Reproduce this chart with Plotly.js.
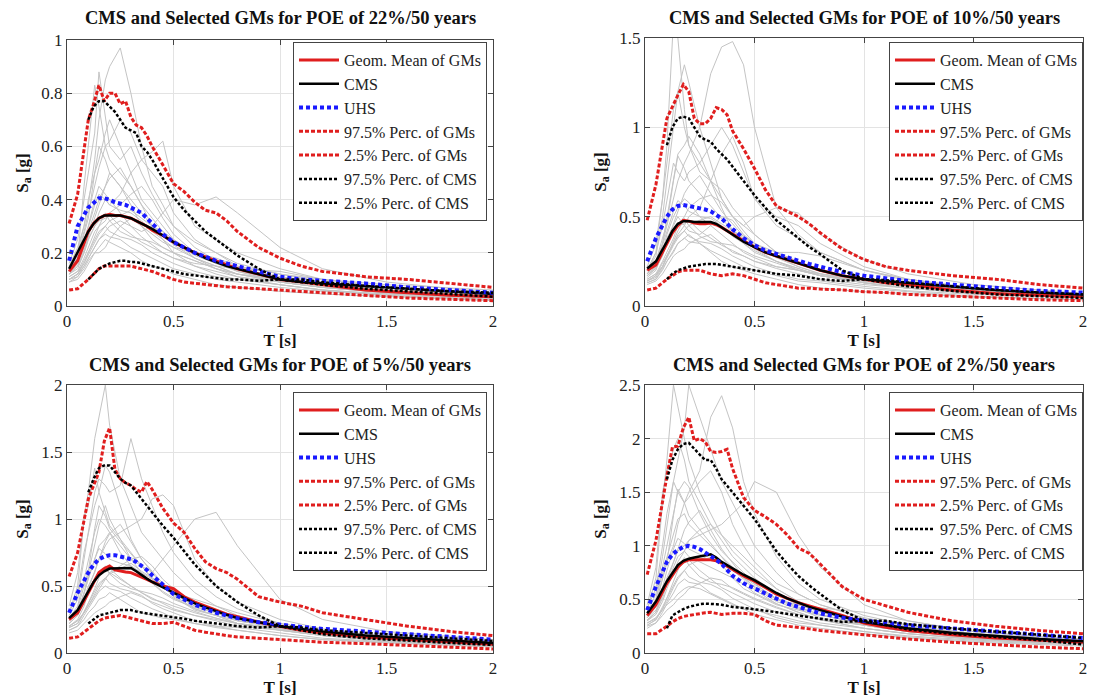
<!DOCTYPE html>
<html>
<head>
<meta charset="utf-8">
<script src="https://cdn.plot.ly/plotly-3.0.1.min.js"></script>
<style>html,body{margin:0;padding:0;background:#fff;}#chart{width:1093px;height:700px;}</style>
</head>
<body>
<div id="chart"></div>
<script>
// Period grids
const T  = [0.01,0.05,0.1,0.125,0.15,0.175,0.2,0.225,0.25,0.275,0.3,0.325,0.35,0.375,0.4,0.45,0.5,0.55,0.6,0.65,0.7,0.75,0.8,0.9,1.0,1.1,1.2,1.4,1.6,1.8,2.0];
const TG = [0.01,0.05,0.08,0.1,0.13,0.15,0.18,0.2,0.25,0.3,0.35,0.4,0.45,0.5,0.6,0.7,0.8,1.0,1.2,1.5,2.0];

const panelTitles = [
  "CMS and Selected GMs for POE of 22%/50 years",
  "CMS and Selected GMs for POE of 10%/50 years",
  "CMS and Selected GMs for POE of 5%/50 years",
  "CMS and Selected GMs for POE of 2%/50 years"
];
const seriesNames = ["Geom. Mean of GMs","CMS","UHS","97.5% Perc. of GMs","2.5% Perc. of GMs","97.5% Perc. of CMS","2.5% Perc. of CMS"];

// ---- POE 22%/50 years ----
const gm22  = [0.13,0.17,0.28,0.31,0.33,0.34,0.345,0.34,0.34,0.335,0.33,0.32,0.31,0.3,0.285,0.265,0.24,0.22,0.2,0.185,0.17,0.155,0.14,0.12,0.1,0.09,0.08,0.06,0.05,0.04,0.035];
const cms22 = [0.14,0.2,0.28,0.31,0.33,0.34,0.34,0.34,0.34,0.335,0.33,0.32,0.31,0.3,0.29,0.265,0.24,0.22,0.2,0.18,0.165,0.15,0.14,0.12,0.1,0.09,0.085,0.075,0.065,0.055,0.045];
const uhs22 = [0.17,0.3,0.37,0.39,0.405,0.405,0.4,0.39,0.385,0.38,0.37,0.36,0.35,0.33,0.31,0.27,0.24,0.22,0.2,0.185,0.17,0.16,0.15,0.13,0.11,0.1,0.095,0.085,0.07,0.06,0.05];
const hi22  = [0.31,0.42,0.7,0.76,0.83,0.77,0.8,0.8,0.76,0.77,0.71,0.68,0.67,0.64,0.6,0.53,0.46,0.43,0.39,0.36,0.35,0.32,0.28,0.22,0.18,0.15,0.13,0.11,0.1,0.085,0.07];
const lo22  = [0.06,0.065,0.1,0.12,0.14,0.15,0.15,0.15,0.15,0.15,0.15,0.145,0.14,0.135,0.13,0.115,0.1,0.09,0.085,0.08,0.075,0.072,0.07,0.065,0.06,0.055,0.05,0.04,0.03,0.025,0.02];
const chi22 = [null,null,0.7,0.75,0.77,0.77,0.75,0.73,0.7,0.67,0.66,0.65,0.6,0.58,0.55,0.48,0.41,0.36,0.32,0.28,0.25,0.22,0.19,0.14,0.1,0.1,0.09,0.075,0.065,0.055,0.05];
const clo22 = [null,null,0.1,0.12,0.14,0.15,0.16,0.165,0.17,0.17,0.165,0.165,0.16,0.155,0.15,0.14,0.13,0.12,0.115,0.11,0.105,0.1,0.1,0.095,0.1,0.09,0.08,0.065,0.055,0.045,0.035];
const gray22 = [
  [0.14,0.2,0.3,0.38,0.55,0.7,0.85,0.9,0.97,0.8,0.6,0.45,0.38,0.3,0.22,0.17,0.13,0.09,0.07,0.05,0.03],
  [0.13,0.18,0.45,0.6,0.83,0.75,0.6,0.55,0.5,0.45,0.38,0.3,0.25,0.2,0.15,0.12,0.1,0.08,0.06,0.04,0.025],
  [0.12,0.14,0.2,0.25,0.3,0.35,0.4,0.38,0.42,0.5,0.55,0.58,0.62,0.45,0.3,0.25,0.2,0.14,0.1,0.07,0.04],
  [0.15,0.22,0.3,0.4,0.5,0.55,0.65,0.7,0.6,0.5,0.4,0.35,0.3,0.25,0.18,0.14,0.11,0.08,0.06,0.045,0.03],
  [0.1,0.12,0.15,0.18,0.22,0.25,0.28,0.3,0.32,0.3,0.28,0.3,0.35,0.4,0.38,0.41,0.35,0.22,0.14,0.09,0.05],
  [0.12,0.16,0.22,0.28,0.35,0.4,0.45,0.5,0.45,0.38,0.3,0.25,0.22,0.2,0.17,0.14,0.12,0.1,0.08,0.06,0.04],
  [0.09,0.1,0.13,0.16,0.2,0.22,0.25,0.24,0.22,0.2,0.17,0.15,0.14,0.12,0.1,0.08,0.07,0.055,0.045,0.035,0.02],
  [0.16,0.25,0.4,0.5,0.65,0.88,0.7,0.6,0.55,0.6,0.5,0.42,0.35,0.3,0.24,0.2,0.16,0.12,0.09,0.06,0.04],
  [0.11,0.13,0.18,0.22,0.28,0.3,0.32,0.35,0.38,0.42,0.45,0.4,0.33,0.27,0.2,0.16,0.14,0.11,0.09,0.07,0.05],
  [0.13,0.17,0.25,0.3,0.4,0.45,0.42,0.4,0.35,0.3,0.26,0.23,0.2,0.18,0.16,0.15,0.14,0.13,0.1,0.08,0.06],
  [0.1,0.11,0.14,0.17,0.2,0.2,0.22,0.25,0.3,0.33,0.3,0.27,0.24,0.22,0.2,0.18,0.15,0.12,0.1,0.07,0.045],
  [0.14,0.19,0.28,0.35,0.45,0.52,0.6,0.62,0.7,0.65,0.55,0.5,0.45,0.35,0.25,0.2,0.15,0.1,0.08,0.06,0.035],
  [0.12,0.15,0.2,0.25,0.3,0.32,0.33,0.34,0.3,0.27,0.24,0.22,0.2,0.18,0.15,0.13,0.11,0.09,0.07,0.05,0.03],
  [0.1,0.12,0.17,0.2,0.25,0.28,0.3,0.28,0.26,0.25,0.23,0.2,0.18,0.16,0.13,0.11,0.1,0.08,0.06,0.045,0.03],
  [0.13,0.17,0.24,0.3,0.38,0.42,0.4,0.38,0.36,0.35,0.32,0.28,0.25,0.22,0.18,0.15,0.12,0.09,0.07,0.05,0.035],
  [0.11,0.13,0.16,0.19,0.24,0.27,0.3,0.32,0.34,0.36,0.33,0.3,0.28,0.25,0.2,0.17,0.14,0.1,0.08,0.06,0.04],
  [0.09,0.11,0.15,0.18,0.22,0.25,0.27,0.26,0.25,0.22,0.2,0.18,0.16,0.14,0.12,0.1,0.09,0.07,0.055,0.04,0.025],
  [0.14,0.18,0.27,0.33,0.5,0.6,0.55,0.5,0.45,0.4,0.35,0.3,0.27,0.23,0.18,0.15,0.12,0.09,0.07,0.05,0.035],
  [0.12,0.15,0.21,0.26,0.33,0.38,0.45,0.48,0.52,0.45,0.38,0.33,0.28,0.24,0.19,0.16,0.13,0.1,0.08,0.06,0.04],
  [0.1,0.12,0.16,0.2,0.26,0.3,0.35,0.32,0.28,0.26,0.25,0.24,0.22,0.2,0.17,0.14,0.12,0.1,0.08,0.06,0.04]
];

// ---- POE 10%/50 years ----
const gm10  = [0.2,0.23,0.35,0.41,0.45,0.48,0.475,0.465,0.46,0.46,0.465,0.455,0.44,0.42,0.4,0.365,0.33,0.3,0.28,0.26,0.24,0.22,0.2,0.17,0.15,0.13,0.12,0.09,0.07,0.06,0.05];
const cms10 = [0.21,0.25,0.36,0.42,0.46,0.475,0.475,0.47,0.47,0.47,0.47,0.46,0.44,0.42,0.4,0.36,0.33,0.3,0.28,0.26,0.24,0.22,0.2,0.17,0.15,0.14,0.13,0.11,0.09,0.075,0.065];
const uhs10 = [0.25,0.38,0.5,0.54,0.56,0.565,0.56,0.555,0.55,0.54,0.53,0.51,0.49,0.46,0.43,0.38,0.34,0.31,0.29,0.27,0.25,0.235,0.22,0.19,0.17,0.155,0.14,0.12,0.1,0.085,0.075];
const hi10  = [0.48,0.68,1.05,1.12,1.18,1.24,1.2,1.05,1.02,1.02,1.05,1.11,1.1,1.07,0.98,0.88,0.77,0.65,0.56,0.53,0.5,0.46,0.41,0.32,0.26,0.22,0.2,0.17,0.15,0.12,0.1];
const lo10  = [0.09,0.1,0.15,0.17,0.19,0.2,0.2,0.2,0.2,0.19,0.18,0.175,0.17,0.175,0.18,0.17,0.15,0.13,0.12,0.11,0.1,0.1,0.095,0.09,0.08,0.075,0.065,0.055,0.045,0.035,0.03];
const chi10 = [null,null,0.9,1.0,1.05,1.06,1.05,1.0,0.95,0.93,0.92,0.88,0.85,0.82,0.78,0.7,0.62,0.55,0.48,0.43,0.38,0.33,0.29,0.2,0.15,0.145,0.13,0.11,0.09,0.075,0.065];
const clo10 = [null,null,0.15,0.18,0.2,0.21,0.22,0.225,0.23,0.235,0.235,0.235,0.23,0.225,0.22,0.21,0.2,0.19,0.18,0.175,0.17,0.16,0.15,0.14,0.15,0.13,0.11,0.085,0.065,0.055,0.045];
const gray10 = [
  [0.2,0.3,0.6,0.9,1.6,1.5,1.1,0.9,0.8,0.7,0.6,0.5,0.45,0.4,0.3,0.24,0.2,0.15,0.12,0.09,0.06],
  [0.18,0.25,0.35,0.45,0.6,0.7,0.8,0.85,1.0,1.3,1.45,1.48,1.35,1.0,0.55,0.4,0.3,0.2,0.15,0.1,0.06],
  [0.2,0.28,0.5,0.7,1.0,1.2,1.35,1.25,1.0,0.8,0.6,0.5,0.42,0.35,0.28,0.22,0.18,0.13,0.1,0.08,0.05],
  [0.15,0.18,0.25,0.3,0.38,0.45,0.5,0.55,0.6,0.62,0.58,0.5,0.45,0.5,0.55,0.52,0.4,0.26,0.18,0.12,0.07],
  [0.16,0.2,0.3,0.4,0.5,0.55,0.6,0.58,0.5,0.45,0.4,0.35,0.3,0.27,0.22,0.2,0.17,0.14,0.11,0.08,0.05],
  [0.13,0.15,0.2,0.25,0.3,0.35,0.38,0.4,0.35,0.3,0.25,0.22,0.2,0.18,0.15,0.12,0.1,0.08,0.07,0.05,0.035],
  [0.22,0.35,0.6,0.8,1.1,1.2,1.0,0.9,0.75,0.7,0.65,0.55,0.48,0.4,0.3,0.25,0.2,0.15,0.12,0.09,0.06],
  [0.14,0.16,0.22,0.28,0.35,0.4,0.45,0.5,0.55,0.7,0.85,0.95,0.8,0.6,0.45,0.38,0.3,0.2,0.14,0.1,0.06],
  [0.18,0.22,0.3,0.38,0.45,0.5,0.45,0.42,0.4,0.45,0.5,0.48,0.4,0.35,0.3,0.3,0.28,0.2,0.15,0.1,0.07],
  [0.17,0.22,0.35,0.5,0.7,0.85,0.9,0.95,0.85,0.7,0.55,0.42,0.35,0.3,0.25,0.2,0.17,0.13,0.1,0.08,0.05],
  [0.12,0.14,0.18,0.22,0.28,0.3,0.32,0.35,0.38,0.4,0.35,0.3,0.28,0.25,0.22,0.2,0.18,0.15,0.12,0.09,0.06],
  [0.2,0.3,0.45,0.6,0.8,0.75,0.7,0.75,0.8,0.9,1.0,0.9,0.75,0.6,0.5,0.45,0.35,0.22,0.15,0.1,0.06],
  [0.17,0.21,0.28,0.35,0.42,0.45,0.46,0.48,0.42,0.38,0.34,0.31,0.28,0.25,0.21,0.18,0.15,0.12,0.1,0.07,0.045],
  [0.14,0.17,0.24,0.28,0.35,0.39,0.42,0.39,0.36,0.35,0.32,0.28,0.25,0.22,0.18,0.15,0.14,0.11,0.085,0.065,0.045],
  [0.18,0.24,0.34,0.42,0.53,0.59,0.56,0.53,0.5,0.49,0.45,0.39,0.35,0.31,0.25,0.21,0.17,0.13,0.1,0.07,0.05],
  [0.15,0.18,0.22,0.27,0.34,0.38,0.42,0.45,0.48,0.5,0.46,0.42,0.39,0.35,0.28,0.24,0.2,0.14,0.11,0.085,0.055],
  [0.13,0.15,0.21,0.25,0.31,0.35,0.38,0.36,0.35,0.31,0.28,0.25,0.22,0.2,0.17,0.14,0.13,0.1,0.08,0.055,0.035],
  [0.2,0.25,0.38,0.46,0.7,0.84,0.77,0.7,0.63,0.56,0.49,0.42,0.38,0.32,0.25,0.21,0.17,0.13,0.1,0.07,0.05],
  [0.17,0.21,0.29,0.36,0.46,0.53,0.63,0.67,0.73,0.63,0.53,0.46,0.39,0.34,0.27,0.22,0.18,0.14,0.11,0.085,0.055],
  [0.14,0.17,0.22,0.28,0.36,0.42,0.49,0.45,0.39,0.36,0.35,0.34,0.31,0.28,0.24,0.2,0.17,0.14,0.11,0.085,0.055]
];

// ---- POE 5%/50 years ----
const gm5  = [0.25,0.3,0.45,0.53,0.6,0.63,0.65,0.62,0.61,0.605,0.6,0.585,0.57,0.55,0.53,0.5,0.48,0.42,0.38,0.35,0.32,0.29,0.27,0.23,0.2,0.17,0.15,0.12,0.1,0.08,0.065];
const cms5 = [0.26,0.32,0.46,0.53,0.58,0.61,0.63,0.63,0.63,0.635,0.635,0.61,0.58,0.555,0.53,0.49,0.45,0.41,0.37,0.34,0.31,0.285,0.26,0.23,0.2,0.18,0.16,0.13,0.11,0.09,0.075];
const uhs5 = [0.3,0.45,0.6,0.66,0.7,0.72,0.73,0.73,0.72,0.71,0.7,0.68,0.65,0.62,0.58,0.51,0.44,0.4,0.36,0.33,0.3,0.28,0.26,0.23,0.21,0.195,0.18,0.16,0.14,0.12,0.1];
const hi5  = [0.57,0.75,1.15,1.25,1.35,1.58,1.68,1.37,1.3,1.27,1.25,1.22,1.2,1.28,1.22,1.08,0.97,0.9,0.78,0.68,0.63,0.6,0.55,0.42,0.38,0.35,0.3,0.25,0.2,0.16,0.13];
const lo5  = [0.11,0.12,0.18,0.21,0.24,0.26,0.27,0.275,0.28,0.27,0.26,0.25,0.24,0.23,0.22,0.22,0.23,0.2,0.17,0.155,0.14,0.13,0.12,0.11,0.1,0.09,0.08,0.07,0.055,0.045,0.03];
const chi5 = [null,null,1.2,1.3,1.38,1.4,1.4,1.35,1.3,1.27,1.25,1.2,1.15,1.1,1.05,0.95,0.86,0.76,0.66,0.58,0.5,0.44,0.38,0.28,0.2,0.19,0.17,0.15,0.13,0.11,0.09];
const clo5 = [null,null,0.22,0.25,0.28,0.29,0.3,0.31,0.32,0.32,0.32,0.31,0.3,0.295,0.29,0.28,0.27,0.255,0.24,0.23,0.22,0.21,0.2,0.19,0.2,0.17,0.14,0.11,0.09,0.075,0.06];
const gray5 = [
  [0.3,0.5,1.0,1.2,1.6,1.75,2.0,1.7,1.3,1.1,0.9,0.8,0.7,0.6,0.45,0.35,0.28,0.2,0.15,0.11,0.07],
  [0.28,0.4,0.7,0.9,1.2,1.3,1.25,1.2,1.25,1.6,1.3,1.1,0.9,0.75,0.55,0.42,0.33,0.22,0.17,0.12,0.08],
  [0.25,0.3,0.45,0.55,0.7,0.8,0.85,0.9,0.8,0.7,0.65,0.6,0.7,0.8,1.0,1.05,0.8,0.4,0.25,0.16,0.1],
  [0.22,0.28,0.4,0.5,0.6,0.7,0.8,0.85,0.9,0.95,1.0,1.15,1.18,1.1,0.7,0.5,0.38,0.25,0.18,0.12,0.08],
  [0.2,0.25,0.35,0.45,0.55,0.6,0.62,0.6,0.55,0.5,0.45,0.4,0.38,0.35,0.3,0.26,0.22,0.18,0.14,0.1,0.07],
  [0.17,0.2,0.25,0.3,0.35,0.4,0.42,0.45,0.4,0.35,0.3,0.28,0.26,0.25,0.22,0.2,0.17,0.13,0.1,0.08,0.05],
  [0.35,0.6,1.0,1.1,1.38,1.2,1.05,0.95,0.85,0.75,0.65,0.55,0.5,0.45,0.35,0.3,0.25,0.2,0.15,0.11,0.07],
  [0.24,0.3,0.45,0.6,0.8,0.95,1.1,1.0,0.85,0.7,0.6,0.55,0.5,0.45,0.4,0.35,0.3,0.22,0.17,0.12,0.08],
  [0.2,0.24,0.3,0.35,0.42,0.48,0.55,0.6,0.65,0.7,0.72,0.65,0.55,0.48,0.38,0.3,0.25,0.19,0.15,0.11,0.08],
  [0.26,0.35,0.55,0.7,0.9,1.0,0.95,0.9,0.75,0.65,0.6,0.52,0.45,0.4,0.34,0.3,0.26,0.21,0.16,0.12,0.09],
  [0.15,0.17,0.22,0.25,0.3,0.32,0.35,0.38,0.42,0.45,0.42,0.38,0.35,0.32,0.28,0.25,0.22,0.18,0.14,0.11,0.07],
  [0.3,0.45,0.75,0.9,1.1,1.2,1.4,1.35,1.1,0.85,0.7,0.6,0.5,0.42,0.32,0.28,0.24,0.19,0.14,0.1,0.06],
  [0.22,0.28,0.37,0.46,0.56,0.6,0.62,0.63,0.56,0.5,0.45,0.41,0.37,0.33,0.28,0.24,0.2,0.17,0.13,0.09,0.06],
  [0.19,0.22,0.31,0.37,0.46,0.52,0.56,0.52,0.48,0.46,0.43,0.37,0.33,0.3,0.24,0.2,0.19,0.15,0.11,0.085,0.055],
  [0.24,0.31,0.44,0.56,0.7,0.78,0.74,0.7,0.67,0.65,0.59,0.52,0.46,0.41,0.33,0.28,0.22,0.17,0.13,0.09,0.065],
  [0.2,0.24,0.3,0.35,0.44,0.5,0.56,0.59,0.63,0.67,0.61,0.56,0.52,0.46,0.37,0.31,0.26,0.19,0.15,0.11,0.075],
  [0.17,0.2,0.28,0.33,0.41,0.46,0.5,0.48,0.46,0.41,0.37,0.33,0.3,0.26,0.22,0.19,0.17,0.13,0.1,0.075,0.045],
  [0.26,0.33,0.5,0.61,0.93,1.1,1.02,0.93,0.83,0.74,0.65,0.56,0.5,0.43,0.33,0.28,0.22,0.17,0.13,0.09,0.065],
  [0.22,0.28,0.39,0.48,0.61,0.7,0.83,0.89,0.96,0.83,0.7,0.61,0.52,0.44,0.35,0.3,0.24,0.19,0.15,0.11,0.075],
  [0.19,0.22,0.3,0.37,0.48,0.56,0.65,0.59,0.52,0.48,0.46,0.44,0.41,0.37,0.31,0.26,0.22,0.19,0.15,0.11,0.075]
];

// ---- POE 2%/50 years ----
const gm2  = [0.35,0.45,0.65,0.73,0.8,0.85,0.87,0.87,0.87,0.87,0.87,0.86,0.84,0.81,0.78,0.72,0.67,0.61,0.55,0.51,0.47,0.44,0.41,0.35,0.28,0.24,0.21,0.17,0.14,0.12,0.1];
const cms2 = [0.37,0.48,0.67,0.75,0.82,0.86,0.88,0.89,0.9,0.91,0.92,0.89,0.85,0.82,0.79,0.73,0.68,0.62,0.56,0.51,0.47,0.43,0.4,0.34,0.29,0.26,0.23,0.19,0.16,0.13,0.11];
const uhs2 = [0.4,0.62,0.85,0.92,0.96,0.99,1.0,0.99,0.97,0.94,0.9,0.87,0.83,0.78,0.72,0.65,0.6,0.55,0.5,0.46,0.43,0.4,0.37,0.33,0.3,0.28,0.26,0.23,0.2,0.17,0.14];
const hi2  = [0.73,1.05,1.65,1.92,1.93,2.1,2.2,1.98,2.0,1.97,1.88,1.87,1.88,1.9,1.72,1.45,1.33,1.27,1.2,1.1,0.98,0.93,0.83,0.62,0.5,0.44,0.38,0.3,0.25,0.21,0.18];
const lo2  = [0.18,0.18,0.25,0.29,0.32,0.34,0.35,0.36,0.37,0.375,0.38,0.37,0.36,0.365,0.37,0.37,0.36,0.3,0.26,0.25,0.24,0.225,0.21,0.19,0.17,0.15,0.13,0.1,0.075,0.055,0.04];
const chi2 = [null,null,1.62,1.8,1.9,1.95,1.96,1.9,1.85,1.8,1.8,1.72,1.62,1.56,1.5,1.38,1.25,1.1,0.95,0.83,0.72,0.63,0.55,0.4,0.3,0.3,0.27,0.23,0.2,0.17,0.14];
const clo2 = [null,null,0.23,0.35,0.38,0.41,0.43,0.445,0.455,0.46,0.46,0.455,0.45,0.44,0.43,0.42,0.41,0.395,0.38,0.365,0.35,0.335,0.32,0.29,0.3,0.26,0.22,0.18,0.15,0.12,0.08];
const gray2 = [
  [0.4,0.7,1.4,1.8,2.5,2.3,2.0,1.8,1.5,1.3,1.1,0.95,0.85,0.75,0.6,0.48,0.4,0.3,0.22,0.16,0.1],
  [0.38,0.55,0.9,1.2,1.6,1.8,2.1,2.5,2.2,1.9,1.6,1.4,1.2,1.0,0.75,0.55,0.45,0.32,0.24,0.17,0.11],
  [0.35,0.45,0.7,0.85,1.0,1.2,1.4,1.5,1.7,2.2,2.4,2.1,1.6,1.3,0.9,0.65,0.5,0.35,0.26,0.18,0.12],
  [0.3,0.38,0.55,0.7,0.85,0.95,1.0,1.05,1.1,1.15,1.2,1.3,1.4,1.6,1.5,1.1,0.8,0.45,0.3,0.2,0.12],
  [0.33,0.4,0.55,0.65,0.8,0.9,0.95,0.9,0.85,0.8,0.75,0.7,0.6,0.55,0.45,0.4,0.35,0.28,0.22,0.16,0.11],
  [0.28,0.32,0.4,0.45,0.5,0.55,0.6,0.62,0.6,0.55,0.5,0.45,0.42,0.4,0.35,0.3,0.26,0.2,0.16,0.12,0.08],
  [0.45,0.8,1.5,1.7,1.9,2.0,1.8,1.6,1.4,1.2,1.05,0.9,0.8,0.7,0.55,0.45,0.38,0.28,0.21,0.15,0.1],
  [0.36,0.5,0.8,1.0,1.3,1.5,1.6,1.55,1.3,1.1,0.95,0.85,0.75,0.65,0.5,0.42,0.36,0.27,0.2,0.14,0.09],
  [0.3,0.36,0.48,0.6,0.75,0.85,0.95,1.05,1.15,1.2,1.1,1.0,0.9,0.8,0.6,0.48,0.4,0.3,0.23,0.17,0.11],
  [0.42,0.6,1.0,1.3,1.6,1.5,1.4,1.45,1.6,1.7,1.5,1.2,1.0,0.85,0.65,0.55,0.45,0.33,0.25,0.18,0.12],
  [0.25,0.28,0.35,0.4,0.45,0.5,0.55,0.6,0.65,0.7,0.68,0.6,0.55,0.5,0.42,0.36,0.32,0.26,0.2,0.15,0.1],
  [0.37,0.5,0.75,0.9,1.1,1.25,1.3,1.2,1.1,1.0,0.9,0.8,0.7,0.62,0.5,0.45,0.42,0.38,0.3,0.2,0.13],
  [0.31,0.38,0.51,0.64,0.77,0.82,0.84,0.87,0.77,0.69,0.61,0.56,0.51,0.46,0.38,0.33,0.28,0.23,0.18,0.13,0.08],
  [0.26,0.31,0.43,0.51,0.64,0.71,0.77,0.71,0.66,0.64,0.59,0.51,0.46,0.41,0.33,0.28,0.26,0.2,0.15,0.11,0.075],
  [0.33,0.43,0.61,0.77,0.97,1.07,1.02,0.97,0.92,0.89,0.82,0.71,0.64,0.56,0.46,0.38,0.31,0.23,0.18,0.13,0.09],
  [0.28,0.33,0.41,0.48,0.61,0.69,0.77,0.82,0.87,0.92,0.84,0.77,0.71,0.64,0.51,0.43,0.36,0.26,0.2,0.15,0.1],
  [0.23,0.28,0.38,0.46,0.56,0.64,0.69,0.66,0.64,0.56,0.51,0.46,0.41,0.36,0.31,0.26,0.23,0.18,0.14,0.1,0.065],
  [0.36,0.46,0.69,0.84,1.28,1.53,1.4,1.28,1.15,1.02,0.89,0.77,0.69,0.59,0.46,0.38,0.31,0.23,0.18,0.13,0.09],
  [0.31,0.38,0.54,0.66,0.84,0.97,1.15,1.22,1.33,1.15,0.97,0.84,0.71,0.61,0.48,0.41,0.33,0.26,0.2,0.15,0.1],
  [0.26,0.31,0.41,0.51,0.66,0.77,0.89,0.82,0.71,0.66,0.64,0.61,0.56,0.51,0.43,0.36,0.31,0.26,0.2,0.15,0.1]
];

const panels = [
  {gray: gray22, main: [gm22,cms22,uhs22,hi22,lo22,chi22,clo22], ymax: 1,   dtick: 0.2},
  {gray: gray10, main: [gm10,cms10,uhs10,hi10,lo10,chi10,clo10], ymax: 1.5, dtick: 0.5},
  {gray: gray5,  main: [gm5,cms5,uhs5,hi5,lo5,chi5,clo5],        ymax: 2,   dtick: 0.5},
  {gray: gray2,  main: [gm2,cms2,uhs2,hi2,lo2,chi2,clo2],        ymax: 2.5, dtick: 0.5}
];

const FONT = 'Liberation Serif';
const RED = '#e01e1e';
const styles = [
  {color: RED,      width: 3,   dash: 'solid'},
  {color: '#000',   width: 2.5, dash: 'solid'},
  {color: '#1a1aff',width: 4,   dash: '4px,3px'},
  {color: RED,      width: 3,   dash: '4px,2px'},
  {color: RED,      width: 3,   dash: '4px,2px'},
  {color: '#000',   width: 2.5, dash: '3px,2px'},
  {color: '#000',   width: 2.5, dash: '3px,2px'}
];

const W = 1093, H = 700;
const xdoms = [[67/W, 493/W], [645/W, 1083/W], [67/W, 493/W], [645/W, 1083/W]];
const ydoms = [[1-306/H, 1-40/H], [1-306/H, 1-38/H], [1-653/H, 1-385/H], [1-653/H, 1-385/H]];
const legPos = [[487/W, 1-42/H], [1083/W, 1-42/H], [487/W, 1-392/H], [1083/W, 1-392/H]];
const titleY = [18, 18, 365, 365];

const traces = [];
const layout = {
  width: W, height: H,
  margin: {l: 0, r: 0, t: 0, b: 0},
  paper_bgcolor: '#fff', plot_bgcolor: '#fff',
  font: {family: FONT, color: '#222'},
  annotations: []
};

panels.forEach((p, i) => {
  const n = i + 1;
  const xa = 'x' + (n === 1 ? '' : n), ya = 'y' + (n === 1 ? '' : n);
  const legName = 'legend' + (n === 1 ? '' : n);
  p.gray.forEach(g => traces.push({
    x: TG, y: g, xaxis: xa, yaxis: ya, type: 'scatter', mode: 'lines',
    line: {color: '#c4c4c4', width: 1}, showlegend: false, hoverinfo: 'skip'
  }));
  p.main.forEach((s, k) => traces.push({
    x: T, y: s, xaxis: xa, yaxis: ya, type: 'scatter', mode: 'lines',
    name: seriesNames[k], legend: legName, connectgaps: false,
    line: {color: styles[k].color, width: styles[k].width, dash: styles[k].dash}
  }));
  const axCommon = {
    showline: true, linecolor: '#444', linewidth: 1, mirror: 'ticks',
    ticks: 'inside', ticklen: 5, tickcolor: '#444',
    showgrid: true, gridcolor: '#e3e3e3', zeroline: false,
    tickfont: {size: 17, family: FONT, color: '#222'},
    automargin: false
  };
  layout['xaxis' + (n === 1 ? '' : n)] = Object.assign({}, axCommon, {
    domain: xdoms[i], range: [0, 2], tickvals: [0, 0.5, 1, 1.5, 2],
    ticktext: ['0', '0.5', '1', '1.5', '2'], anchor: ya,
    title: {text: '<b>T [s]</b>', font: {size: 17, family: FONT, color: '#111'}, standoff: 0}
  });
  layout['yaxis' + (n === 1 ? '' : n)] = Object.assign({}, axCommon, {
    domain: ydoms[i], range: [0, p.ymax], dtick: p.dtick, tick0: 0, anchor: xa,
    title: {text: '<b>S<sub>a</sub> [g]</b>', font: {size: 17, family: FONT, color: '#111'}, standoff: 8}
  });
  layout[legName] = {
    x: legPos[i][0], y: legPos[i][1], xanchor: 'right', yanchor: 'top',
    bgcolor: '#fff', bordercolor: '#444', borderwidth: 1,
    font: {size: 16, family: FONT, color: '#222'},
    tracegroupgap: 0, itemwidth: 40
  };
  layout.annotations.push({
    text: '<b>' + panelTitles[i] + '</b>', xref: 'paper', yref: 'paper',
    x: (xdoms[i][0] + xdoms[i][1]) / 2, y: 1 - titleY[i] / H,
    xanchor: 'center', yanchor: 'middle', showarrow: false,
    font: {size: 18.5, family: FONT, color: '#111'}
  });
});

Plotly.newPlot('chart', traces, layout, {displayModeBar: false, staticPlot: true});
</script>
</body>
</html>
